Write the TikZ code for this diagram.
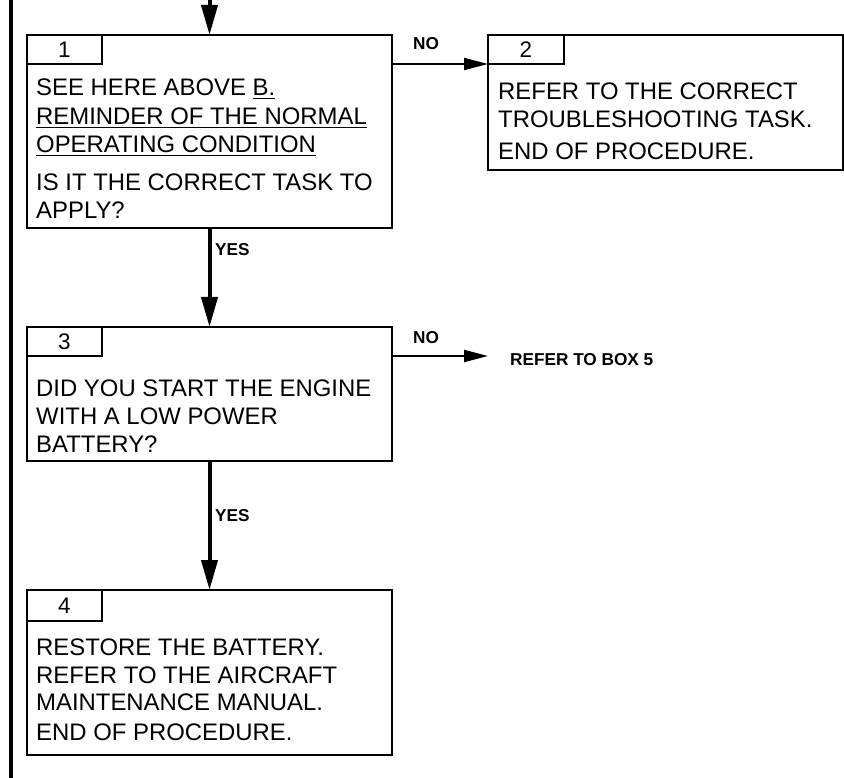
\documentclass[tikz,border=0pt]{standalone}
\usepackage{fontspec}
\setmainfont{Liberation Sans}
\usetikzlibrary{arrows.meta}
\newcommand\myul[1]{\setbox0\hbox{#1}\rlap{\vrule width\wd0 height -2pt depth 3.5pt}\box0}
\begin{document}
\begin{tikzpicture}[x=1pt,y=-1pt,
  box/.style={draw,line width=2pt,rectangle,anchor=north west,inner sep=0pt,outer sep=0pt},
  txt/.style={anchor=base west,inner sep=0pt,font=\fontsize{23.9}{28}\selectfont},
  lbl/.style={anchor=base west,inner sep=0pt,font=\bfseries\fontsize{17.2}{20}\selectfont},
  num/.style={font=\fontsize{22.5}{24}\selectfont},
  varrow/.style={line width=4pt,-{Triangle[length=30pt,width=16pt]}},
  harrow/.style={line width=2pt,-{Triangle[length=24pt,width=12pt]}},
]
\useasboundingbox (0,0) rectangle (844,778);
% change bar
\draw[line width=4pt] (11,0) -- (11,778);
% boxes
\node[box,minimum width=365pt,minimum height=193pt] (b1) at (27,35) {};
\node[box,num,minimum width=75pt,minimum height=29pt] (t1) at (27,35) {1};
\node[box,minimum width=355pt,minimum height=135pt] (b2) at (488,35) {};
\node[box,num,minimum width=76pt,minimum height=29pt] (t2) at (488,35) {2};
\node[box,minimum width=365pt,minimum height=134pt] (b3) at (27,327) {};
\node[box,num,minimum width=75pt,minimum height=29pt] (t3) at (27,327) {3};
\node[box,minimum width=365pt,minimum height=165pt] (b4) at (27,590) {};
\node[box,num,minimum width=75pt,minimum height=31pt] (t4) at (27,590) {4};
% texts box 1
\node[txt] (l11) at (36,96) {SEE HERE ABOVE \myul{B.}};
\node[txt] (l12) at (36,125) {\myul{REMINDER OF THE NORMAL}};
\node[txt] (l13) at (36,153) {\myul{OPERATING CONDITION}};
\node[txt] (l14) at (36,191) {IS IT THE CORRECT TASK TO};
\node[txt] (l15) at (36,219) {APPLY?};
% texts box 2
\node[txt] (l21) at (498,100) {REFER TO THE CORRECT};
\node[txt] (l22) at (498,128) {TROUBLESHOOTING TASK.};
\node[txt] (l23) at (498,160) {END OF PROCEDURE.};
% texts box 3
\node[txt] (l31) at (36,396) {DID YOU START THE ENGINE};
\node[txt] (l32) at (36,424) {WITH A LOW POWER};
\node[txt] (l33) at (36,452) {BATTERY?};
% texts box 4
\node[txt] (l41) at (36,655) {RESTORE THE BATTERY.};
\node[txt] (l42) at (36,683) {REFER TO THE AIRCRAFT};
\node[txt] (l43) at (36,710) {MAINTENANCE MANUAL.};
\node[txt] (l44) at (36,740) {END OF PROCEDURE.};
% labels
\node[lbl] (no1) at (413,50) {NO};
\node[lbl] (yes1) at (215,256) {YES};
\node[lbl] (no2) at (413,343) {NO};
\node[lbl] (ref5) at (510,365.5) {REFER TO BOX 5};
\node[lbl] (yes2) at (215,521) {YES};
% connectors
\coordinate (in) at (209.5,0);
\coordinate (c5) at (488,356);
\draw[varrow] (in) -- (b1.north);
\draw[varrow] (b1.south) -- (b3.north);
\draw[varrow] (b3.south) -- (b4.north);
\draw[harrow] (b1.east |- t2.south west) -- (t2.south west);
\draw[harrow] (b3.east |- c5) -- (c5);
\end{tikzpicture}
\end{document}
